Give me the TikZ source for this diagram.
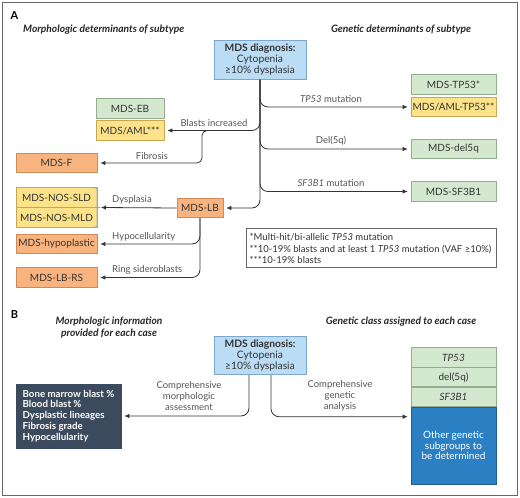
\documentclass[tikz,border=0pt]{standalone}
\usepackage{fontspec}
\setmainfont{Lato}
\usetikzlibrary{arrows.meta}
\definecolor{diagblue}{HTML}{BADCF4}
\definecolor{diagedge}{HTML}{7FA7CC}
\definecolor{boxgreen}{HTML}{D4E8CF}
\definecolor{greenedge}{HTML}{93AE8E}
\definecolor{boxyellow}{HTML}{FCE38A}
\definecolor{yellowedge}{HTML}{C9A652}
\definecolor{boxorange}{HTML}{F8B37F}
\definecolor{orangeedge}{HTML}{C98C5A}
\definecolor{boxslate}{HTML}{3B4A5C}
\definecolor{boxdeep}{HTML}{2B80C4}
\definecolor{deepedge}{HTML}{215F92}
\definecolor{linegray}{HTML}{333333}
\definecolor{labelgray}{HTML}{555555}
\definecolor{textgray}{HTML}{333333}
\definecolor{framegray}{HTML}{666666}
\definecolor{bracegray}{HTML}{9AA6B8}
\begin{document}
\begin{tikzpicture}[x=1pt,y=-1pt,
	box/.style={draw, line width=0.6pt, minimum width=81pt, minimum height=19.5pt, inner sep=0pt, text=textgray, font=\fontsize{10}{12}\selectfont},
	greenbox/.style={box, fill=boxgreen, draw=greenedge},
	yellowbox/.style={box, fill=boxyellow, draw=yellowedge},
	orangebox/.style={box, fill=boxorange, draw=orangeedge},
	diagbox/.style={box, fill=diagblue, draw=diagedge, minimum width=92pt, minimum height=38.5pt, align=center, font=\fontsize{10.3}{11}\selectfont},
	lbl/.style={text=labelgray, font=\fontsize{9.5}{11}\selectfont, inner sep=0pt},
	heading/.style={text=black!85, font=\fontsize{10.2}{11.5}\selectfont\bfseries\itshape, inner sep=0pt, align=center},
	arr/.style={draw=linegray, line width=0.8pt, rounded corners=8pt, shorten >=3pt, -{Latex[length=5pt,width=4.5pt]}}]
	\useasboundingbox (0,0) rectangle (520,498);
	\draw[framegray, line width=0.8pt] (2,2) rectangle (517,495);

	% panel A
	\node[font=\fontsize{11}{13}\selectfont\bfseries, inner sep=0pt] (letA) at (14.5,16) {A};
	\node[heading, anchor=west] (morphA) at (23,30) {Morphologic determinants of subtype};
	\node[heading] (genA) at (401,30) {Genetic determinants of subtype};
	\node[diagbox] (diagA) at (260,60) {\textbf{MDS diagnosis:}\\Cytopenia\\≥10\% dysplasia};

	\node[greenbox, minimum width=68pt] (eb) at (130,108.5) {MDS-EB};
	\node[yellowbox, minimum width=68pt] (mdsaml) at (130,130.5) {MDS/AML***};
	\node[orangebox] (mdsf) at (56.5,163) {MDS-F};
	\node[yellowbox] (sld) at (56.5,197.5) {MDS-NOS-SLD};
	\node[yellowbox] (mld) at (56.5,217.5) {MDS-NOS-MLD};
	\node[orangebox] (hypo) at (56.5,244) {MDS-hypoplastic};
	\node[orangebox] (lbrs) at (56.5,277.5) {MDS-LB-RS};
	\node[orangebox, minimum width=46pt] (mdslb) at (200,208) {MDS-LB};

	\node[greenbox, minimum width=85pt] (tp53) at (453.5,84.5) {MDS-TP53*};
	\node[yellowbox, minimum width=85pt] (tp53aml) at (453.5,107) {MDS/AML-TP53**};
	\node[greenbox, minimum width=85pt] (del5q) at (453.5,149) {MDS-del5q};
	\node[greenbox, minimum width=85pt] (sf3b1) at (453.5,191.5) {MDS-SF3B1};

	\draw[bracegray, line width=0.6pt] (93.5,188) .. controls (97,188) .. (97,192) -- (97,204) .. controls (97,207.5) .. (99.5,207.5) .. controls (97,207.5) .. (97,211) -- (97,223) .. controls (97,227) .. (93.5,227);
	\coordinate (brace) at (100,207.5);
	\coordinate (fibfork) at (212,130.5);

	\path[arr] (diagA.south) |- (tp53aml.west);
	\path[arr] (diagA.south) |- (del5q.west);
	\path[arr] (diagA.south) |- (sf3b1.west);
	\path[arr] (diagA.south) |- (mdsaml.east);
	\path[arr] (diagA.south) |- (mdslb.east);
	\path[arr, rounded corners=5pt] (fibfork) -| (202,163) -- (mdsf.east);
	\path[arr, shorten >=1pt] (mdslb.west) -- (brace);
	\path[arr] (mdslb.south) |- (hypo.east);
	\path[arr] (mdslb.south) |- (lbrs.east);

	\node[lbl] (lblasts) at (214,123) {Blasts increased};
	\node[lbl] (lfib) at (152,156.5) {Fibrosis};
	\node[lbl, anchor=west] (ldys) at (112,200) {Dysplasia};
	\node[lbl, anchor=west] (lhypo) at (112,237) {Hypocellularity};
	\node[lbl, anchor=west] (lring) at (112,270) {Ring sideroblasts};
	\node[lbl] (ltp53) at (331,99) {\textit{TP53} mutation};
	\node[lbl] (ldel) at (331,141) {Del(5q)};
	\node[lbl] (lsf) at (331,183) {\textit{SF3B1} mutation};

	\node[draw=framegray, line width=0.6pt, fill=white, minimum width=250pt, minimum height=39pt, inner sep=0pt] (note) at (371,247.5) {};
	\node[lbl, text=textgray, anchor=west, align=left, font=\fontsize{9.5}{11.5}\selectfont] (notetext) at (249.5,248.5) {*Multi-hit/bi-allelic \textit{TP53} mutation\\**10-19\% blasts and at least 1 \textit{TP53} mutation (VAF ≥10\%)\\***10-19\% blasts};

	% panel B
	\node[font=\fontsize{11}{13}\selectfont\bfseries, inner sep=0pt] (letB) at (14.5,315) {B};
	\node[heading] (morphB) at (109,327.5) {Morphologic information\\provided for each case};
	\node[heading] (genB) at (401,322) {Genetic class assigned to each case};
	\node[diagbox] (diagB) at (260,355.5) {\textbf{MDS diagnosis:}\\Cytopenia\\≥10\% dysplasia};

	\node[box, fill=boxslate, draw=boxslate, minimum width=105pt, minimum height=64pt, text=white, align=left, font=\fontsize{9.7}{10.8}\selectfont\bfseries] (morphbox) at (68.5,416) {Bone marrow blast \%\\Blood blast \%\\Dysplastic lineages\\Fibrosis grade\\Hypocellularity};
	\node[greenbox, minimum width=85pt] (gtp53) at (453.5,357.5) {\textit{TP53}};
	\node[greenbox, minimum width=85pt] (gdel) at (453.5,377) {del(5q)};
	\node[greenbox, minimum width=85pt] (gsf) at (453.5,397) {\textit{SF3B1}};
	\node[box, fill=boxdeep, draw=deepedge, minimum width=85pt, minimum height=77pt, text=white, align=center, font=\fontsize{10}{10.8}\selectfont] (gother) at (453.5,445.5) {Other genetic\\subgroups to\\be determined};

	\path[arr] ([xshift=-11pt]diagB.south) |- (morphbox.east);
	\path[arr] ([xshift=11pt]diagB.south) |- ([yshift=-10pt]gother.north west);

	\node[lbl, align=center] (lmorph) at (189,396) {Comprehensive\\morphologic\\assessment};
	\node[lbl, align=center] (lgen) at (340,396) {Comprehensive\\genetic\\analysis};
\end{tikzpicture}
\end{document}
